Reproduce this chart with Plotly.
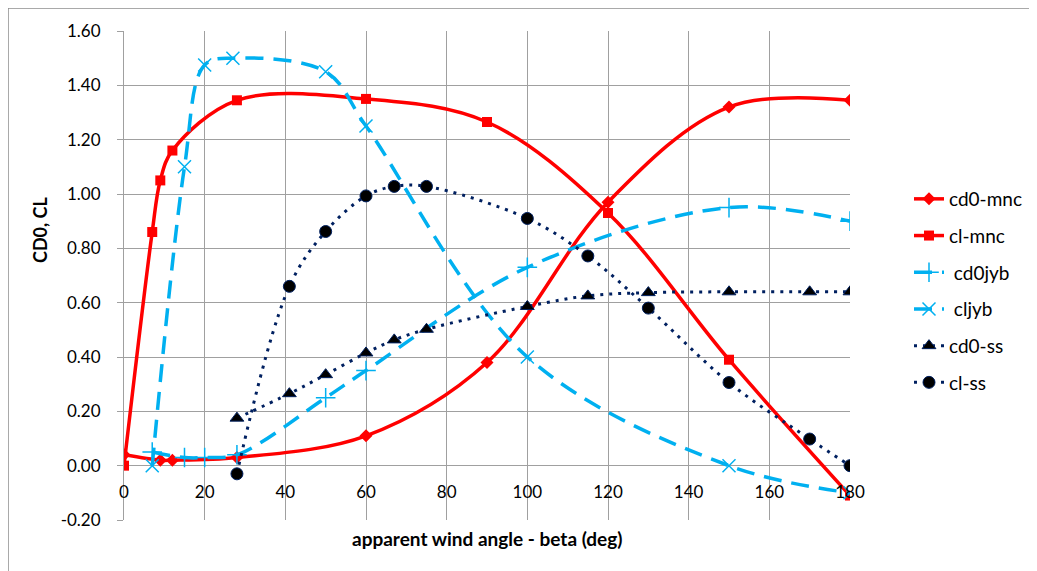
import plotly.graph_objects as go

# ---- data ----
x_cd0_mnc = [0, 9, 12, 28, 60, 90, 120, 150, 180]
y_cd0_mnc = [0.04, 0.02, 0.02, 0.03, 0.11, 0.38, 0.97, 1.32, 1.345]

x_cl_mnc = [0, 7, 9, 12, 28, 60, 90, 120, 150, 180]
y_cl_mnc = [0.0, 0.86, 1.05, 1.16, 1.345, 1.35, 1.265, 0.93, 0.39, -0.11]

x_cd0jyb = [7, 15, 20, 28, 50, 60, 100, 150, 180]
y_cd0jyb = [0.05, 0.03, 0.03, 0.04, 0.25, 0.35, 0.73, 0.95, 0.90]

x_cljyb = [7, 15, 20, 27, 50, 60, 100, 150, 180]
y_cljyb = [0.0, 1.10, 1.475, 1.50, 1.45, 1.25, 0.40, 0.0, -0.10]

x_cd0_ss = [28, 41, 50, 60, 67, 75, 100, 115, 130, 150, 170, 180]
y_cd0_ss = [0.175, 0.265, 0.335, 0.415, 0.463, 0.502, 0.586, 0.625, 0.637, 0.64, 0.64, 0.64]

x_cl_ss = [28, 41, 50, 60, 67, 75, 100, 115, 130, 150, 170, 180]
y_cl_ss = [-0.03, 0.66, 0.862, 0.993, 1.028, 1.028, 0.91, 0.772, 0.58, 0.306, 0.098, 0.0]

x_ticks = [0, 20, 40, 60, 80, 100, 120, 140, 160, 180]
y_ticks = [-0.2, 0.0, 0.2, 0.4, 0.6, 0.8, 1.0, 1.2, 1.4, 1.6]

RED = "#FF0000"
BLUE = "#00B0F0"
NAVY = "#002060"
GRID = "#A0A0A0"
FONT = "Lato"

fig = go.Figure()

def add(x, y, name, color, width, dash, symbol, msize, mcolor, mline_color=None, mline_w=0):
    fig.add_trace(go.Scatter(
        x=x, y=y, name=name, mode="lines+markers", legendgroup=name,
        line=dict(color=color, width=width, dash=dash, shape="spline", smoothing=1.0),
        marker=dict(symbol=symbol, size=msize, color=mcolor,
                    line=dict(color=mline_color or mcolor, width=mline_w)),
    ))

add(x_cd0_mnc, y_cd0_mnc, "cd0-mnc", RED, 3.5, "solid", "diamond", 10, RED)
add(x_cl_mnc, y_cl_mnc, "cl-mnc", RED, 3.5, "solid", "square", 10, RED)
add(x_cd0jyb, y_cd0jyb, " cd0jyb", BLUE, 3.5, "18px,10px", "cross-thin", 14, BLUE, BLUE, 1.5)
add(x_cljyb, y_cljyb, " cljyb", BLUE, 3.5, "18px,10px", "x-thin", 13, BLUE, BLUE, 1.5)
add(x_cd0_ss, y_cd0_ss, "cd0-ss", NAVY, 3, "3px,6px", "triangle-up", 12, "#000000", NAVY, 1)
add(x_cl_ss, y_cl_ss, "cl-ss", NAVY, 3, "3px,6px", "circle", 12, "#000000", NAVY, 1)

# page body adds an 8px offset; compensate so pixel positions match the reference
OFF = 8
W, H = 1037 - OFF, 571 - OFF
PL, PR, PT, PB = 124, 850, 31, 520          # plot area in reference pixels
L, R, T, B = PL - OFF, W - (PR - OFF), PT - OFF, H - (PB - OFF)
pw, ph = PR - PL, PB - PT

def px_x(px):
    return (px - PL) / pw

def px_y(py):
    return (PB - py) / ph

fig.update_layout(
    width=W, height=H,
    margin=dict(l=L, r=R, t=T, b=B, autoexpand=False),
    paper_bgcolor="white", plot_bgcolor="white",
    font=dict(family=FONT, size=17, color="#000000"),
    showlegend=True,
    legend=dict(
        x=px_x(909), y=px_y(180), xanchor="left", yanchor="top",
        font=dict(family=FONT, size=19, color="#000000"),
        traceorder="grouped", tracegroupgap=9,
        bgcolor="rgba(0,0,0,0)",
    ),
    xaxis=dict(
        range=[0, 180], tickvals=x_ticks, ticktext=[str(v) for v in x_ticks],
        showgrid=True, gridcolor=GRID, gridwidth=1,
        zeroline=False, showline=False,
        anchor="free", position=0.2 / 1.8,
        ticks="", ticklabelstandoff=14,
        tickfont=dict(family=FONT, size=17, color="#000000"),
    ),
    yaxis=dict(
        range=[-0.2, 1.6], tickvals=y_ticks, ticktext=[f"{v:.2f}" for v in y_ticks],
        showgrid=True, gridcolor=GRID, gridwidth=1,
        zeroline=False, showline=True, linecolor=GRID, linewidth=1,
        ticks="outside", ticklen=6, tickcolor=GRID, ticklabelstandoff=13,
        tickfont=dict(family=FONT, size=17, color="#000000"),
    ),
    annotations=[
        dict(text="<b>apparent wind angle - beta (deg)</b>", xref="paper", yref="paper",
             x=0.5, y=px_y(538), xanchor="center", yanchor="middle", showarrow=False,
             font=dict(family=FONT, size=19, color="#000000")),
        dict(text="<b>CD0, CL</b>", xref="paper", yref="paper",
             x=px_x(40), y=px_y(230), xanchor="center", yanchor="middle", showarrow=False,
             textangle=-90, font=dict(family=FONT, size=18, color="#000000")),
    ],
    shapes=[
        dict(type="line", xref="paper", yref="paper", x0=px_x(8), x1=px_x(1045), y0=px_y(8), y1=px_y(8),
             line=dict(color="#8C8C8C", width=1.5)),
        dict(type="line", xref="paper", yref="paper", x0=px_x(8), x1=px_x(8), y0=px_y(8), y1=px_y(580),
             line=dict(color="#8C8C8C", width=1.5)),
    ],
)

fig.write_html("out.html")
